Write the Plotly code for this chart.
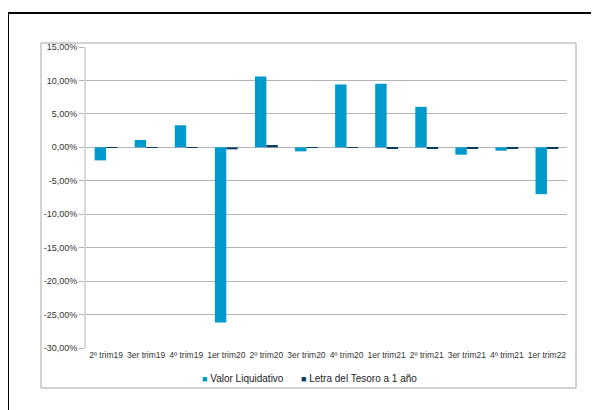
import plotly.graph_objects as go

categories = ["2º trim19", "3er trim19", "4º trim19", "1er trim20", "2º trim20", "3er trim20",
              "4º trim20", "1er trim21", "2º trim21", "3er trim21", "4º trim21", "1er trim22"]
valor_liquidativo = [-1.95, 1.1, 3.3, -26.2, 10.6, -0.6, 9.4, 9.5, 6.05, -1.1, -0.5, -7.0]
letra_tesoro = [-0.03, -0.03, -0.03, -0.3, 0.35, -0.1, -0.05, -0.25, -0.12, -0.12, -0.12, -0.2]
tick_vals = [15, 10, 5, 0, -5, -10, -15, -20, -25, -30]
tick_text = ["15,00%", "10,00%", "5,00%", "0,00%", "-5,00%", "-10,00%", "-15,00%",
             "-20,00%", "-25,00%", "-30,00%"]
series_names = ["Valor Liquidativo", "Letra del Tesoro a 1 año"]
series_colors = ["#0099CC", "#0B3D62"]

fig = go.Figure()
fig.add_trace(go.Bar(x=categories, y=valor_liquidativo, name=series_names[0],
                     marker=dict(color=series_colors[0], line=dict(width=0)), showlegend=False))
fig.add_trace(go.Bar(x=categories, y=letra_tesoro, name=series_names[1],
                     marker=dict(color=series_colors[1], line=dict(width=0)), showlegend=False))

# the page body has an 8px margin, so the figure is offset by (8, 8) in the window
OFF = 8
W, H = 599 - OFF, 410 - OFF
l, t = 86 - OFF, 47 - OFF
r = W - (567 - OFF)
b = H - (348 - OFF)
pw, ph = W - l - r, H - t - b

def px(x):
    return (x - OFF - l) / pw

def py(y):
    return (H - b - (y - OFF)) / ph

legend_x = [200, 299]
annotations = []
for name, color, lx in zip(series_names, series_colors, legend_x):
    annotations.append(dict(
        xref="paper", yref="paper", x=px(lx), y=py(378), xanchor="left", yanchor="middle",
        showarrow=False,
        text=f"<span style='color:{color};font-size:9px'>■</span> {name}",
        font=dict(size=10, color="#222222", family="Liberation Sans, Arial")))

fig.update_layout(
    width=W, height=H,
    margin=dict(l=l, r=r, t=t, b=b, pad=0),
    paper_bgcolor="white", plot_bgcolor="white",
    barmode="group", bargap=0.43, bargroupgap=0,
    font=dict(family="Liberation Sans, Arial", size=8.5, color="#333333"),
    showlegend=False,
    annotations=annotations,
    xaxis=dict(showgrid=False, showline=False, ticks="", tickangle=0,
               tickfont=dict(size=8.5), automargin=False, fixedrange=True),
    yaxis=dict(range=[-30, 15], tickvals=tick_vals, ticktext=tick_text,
               showgrid=True, gridcolor="#B3B3B3", gridwidth=1,
               zeroline=True, zerolinecolor="#B3B3B3", zerolinewidth=1,
               showline=True, linecolor="#D9D9D9", linewidth=2,
               ticks="outside", ticklen=5, tickcolor="#B3B3B3",
               tickfont=dict(size=9), automargin=False, fixedrange=True),
    shapes=[
        dict(type="rect", xref="paper", yref="paper",
             x0=px(41), x1=px(576), y0=py(388), y1=py(43),
             line=dict(color="#A6A6A6", width=1), layer="below"),
        dict(type="rect", xref="paper", yref="paper",
             x0=px(8), x1=px(620), y0=py(430), y1=py(13),
             line=dict(color="#000000", width=2), layer="below"),
    ],
)

fig.write_html("out.html")
